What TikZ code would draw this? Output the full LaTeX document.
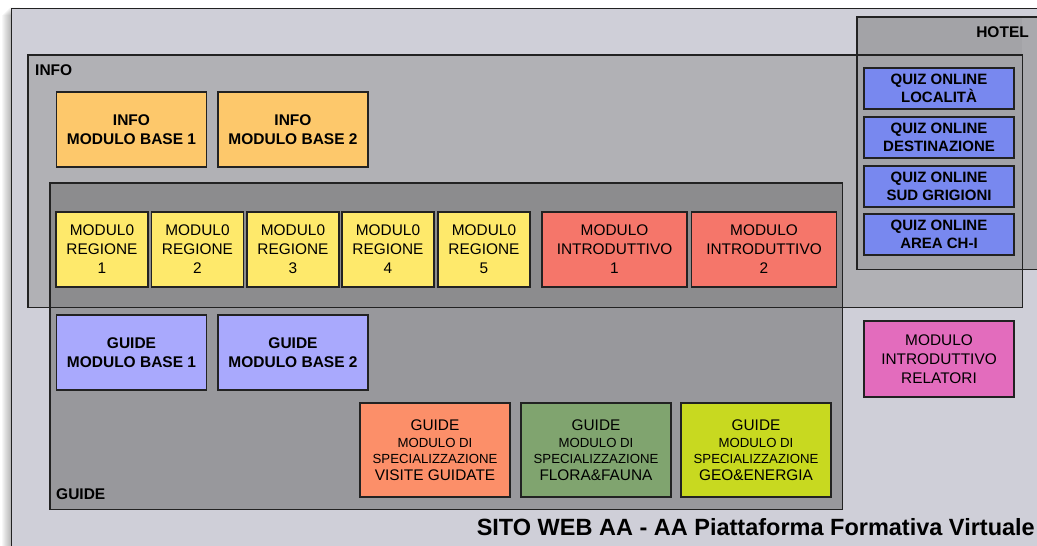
\documentclass[tikz,border=0pt]{standalone}
\usepackage{fontspec}
\setmainfont{Liberation Sans}
\definecolor{outerbg}{HTML}{CFCFD8}
\definecolor{infobg}{HTML}{B1B1B5}
\definecolor{hotelbg}{HTML}{A9A9AD}
\definecolor{hotelinfo}{HTML}{A3A3A7}
\definecolor{guidebg}{HTML}{98989C}
\definecolor{guideinfo}{HTML}{8C8C8E}
\definecolor{infomod}{HTML}{FDC86B}
\definecolor{regmod}{HTML}{FEE96B}
\definecolor{intromod}{HTML}{F5766A}
\definecolor{guidemod}{HTML}{A9A9FD}
\definecolor{visite}{HTML}{FC8F69}
\definecolor{flora}{HTML}{80A46F}
\definecolor{geo}{HTML}{C8D920}
\definecolor{quiz}{HTML}{7888EF}
\definecolor{relatori}{HTML}{E36CBD}
\definecolor{edge}{HTML}{222222}
\newcommand{\bigb}{\fontsize{15.5}{19}\selectfont\bfseries}
\newcommand{\quizf}{\fontsize{15}{18}\selectfont\bfseries}
\newcommand{\regf}{\fontsize{15.4}{19}\selectfont}
\newcommand{\smallf}{\fontsize{13.2}{19}\selectfont}
\begin{document}
\begin{tikzpicture}[x=1pt,y=-1pt,
  container/.style={inner sep=0pt, anchor=north west},
  frame/.style={draw=edge, line width=1.1pt},
  module/.style={draw=edge, line width=1.1pt, inner sep=0pt, align=center, text=black},
  basebox/.style={module, minimum width=150pt, minimum height=75pt, font=\bigb},
  regbox/.style={module, minimum width=92pt, minimum height=75pt, font=\regf},
  introbox/.style={module, minimum width=145pt, minimum height=75pt, font=\regf},
  specbox/.style={module, minimum width=150pt, minimum height=94pt, fill=#1, font=\regf},
  quizbox/.style={module, fill=quiz, minimum width=150pt, minimum height=41pt, font=\quizf},
  grouplabel/.style={inner sep=0pt, font=\bigb}]
\useasboundingbox (0,0) rectangle (1037,546);
\clip (0,0) rectangle (1037,546);
\fill[white] (0,0) rectangle (1037,546);

% soft shadow along the left side of the page frame
\foreach \i in {1,...,9}
  \fill[black, opacity=0.03] ({11-\i},{6+\i}) rectangle (20,560);

% group areas
\node[container, fill=outerbg, minimum width=1040pt, minimum height=560pt] (page) at (11,8) {};
\node[container, fill=infobg, minimum width=994pt, minimum height=252pt] (info) at (28,55) {};
\node[container, fill=guidebg, minimum width=792pt, minimum height=326pt] (guide) at (50,183) {};
\node[container, fill=hotelbg, minimum width=190pt, minimum height=252pt] (hotel) at (857,17) {};

% overlapping parts of the groups
\fill[guideinfo] (guide.north west) rectangle (guide.east |- info.south);
\fill[hotelinfo] (hotel.north west) rectangle (info.east |- hotel.south);

% group outlines
\draw[frame, line width=1pt] (page.north west) rectangle (page.south east);
\draw[frame] (info.north west) rectangle (info.south east);
\draw[frame] (guide.north west) rectangle (guide.south east);
\draw[frame] (hotel.north west) rectangle (hotel.south east);

% group labels
\node[grouplabel, anchor=base west] (infolbl) at (35,75) {INFO};
\node[grouplabel, anchor=base east] (hotellbl) at (1029,37) {HOTEL};
\node[grouplabel, anchor=base west] (guidelbl) at (56,499) {GUIDE};
\node[inner sep=0pt, anchor=base east, font=\fontsize{23.5}{28}\selectfont\bfseries] (title) at (1035,535)
  {SITO WEB AA - AA Piattaforma Formativa Virtuale};

% INFO modules
\node[basebox, fill=infomod] (ib1) at (131.5,129.5) {INFO\\MODULO BASE 1};
\node[basebox, fill=infomod] (ib2) at (293,129.5) {INFO\\MODULO BASE 2};

% regional modules
\foreach \n/\x in {1/102, 2/197.5, 3/293, 4/388, 5/484}
  \node[regbox, fill=regmod] (reg\n) at (\x,249.5) {MODUL0\\REGIONE\\\n};

% introductory modules
\node[introbox, fill=intromod] (intro1) at (614.5,249.5) {MODULO\\INTRODUTTIVO\\1};
\node[introbox, fill=intromod] (intro2) at (764,249.5) {MODULO\\INTRODUTTIVO\\2};

% GUIDE base modules
\node[basebox, fill=guidemod] (gb1) at (131.5,352.5) {GUIDE\\MODULO BASE 1};
\node[basebox, fill=guidemod] (gb2) at (293,352.5) {GUIDE\\MODULO BASE 2};

% GUIDE specialisation modules
\node[specbox=visite] (spec1) at (435,450)
  {GUIDE\\[-2pt]\smallf MODULO DI\\[-3pt]\smallf SPECIALIZZAZIONE\\[-2pt]VISITE GUIDATE};
\node[specbox=flora] (spec2) at (596,450)
  {GUIDE\\[-2pt]\smallf MODULO DI\\[-3pt]\smallf SPECIALIZZAZIONE\\[-2pt]FLORA\&FAUNA};
\node[specbox=geo] (spec3) at (756,450)
  {GUIDE\\[-2pt]\smallf MODULO DI\\[-3pt]\smallf SPECIALIZZAZIONE\\[-2pt]GEO\&ENERGIA};

% HOTEL quizzes
\node[quizbox] (quiz1) at (939,88.5) {QUIZ ONLINE\\LOCALITÀ};
\node[quizbox] (quiz2) at (939,137.5) {QUIZ ONLINE\\DESTINAZIONE};
\node[quizbox] (quiz3) at (939,186.5) {QUIZ ONLINE\\SUD GRIGIONI};
\node[quizbox] (quiz4) at (939,234.5) {QUIZ ONLINE\\AREA CH-I};

% speakers' module
\node[module, fill=relatori, minimum width=150pt, minimum height=76pt, font=\regf] (relatori) at (939,359)
  {MODULO\\INTRODUTTIVO\\RELATORI};
\end{tikzpicture}
\end{document}
